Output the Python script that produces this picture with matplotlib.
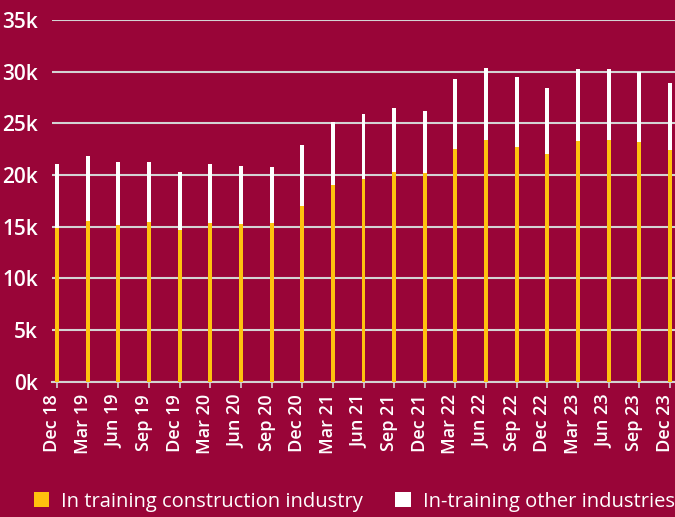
import matplotlib
matplotlib.use("Agg")
import matplotlib.pyplot as plt
import matplotlib.transforms as mtransforms
from matplotlib.patches import Patch
import numpy as np

categories = ["Dec 18", "Mar 19", "Jun 19", "Sep 19", "Dec 19", "Mar 20", "Jun 20",
              "Sep 20", "Dec 20", "Mar 21", "Jun 21", "Sep 21", "Dec 21", "Mar 22",
              "Jun 22", "Sep 22", "Dec 22", "Mar 23", "Jun 23", "Sep 23", "Dec 23"]
construction = [14.9, 15.55, 15.13, 15.42, 14.71, 15.35, 15.26, 15.35, 17.03, 19.03,
                19.61, 20.26, 20.16, 22.52, 23.35, 22.71, 22.0, 23.29, 23.39, 23.19, 22.42]
total = [21.1, 21.87, 21.26, 21.26, 20.26, 21.1, 20.87, 20.77, 22.87, 25.13,
         25.94, 26.45, 26.16, 29.32, 30.35, 29.48, 28.42, 30.23, 30.26, 30.0, 28.94]
other = [t - c for t, c in zip(total, construction)]
yticks = [0, 5, 10, 15, 20, 25, 30, 35]
ytick_labels = ["0k", "5k", "10k", "15k", "20k", "25k", "30k", "35k"]
series_names = ["In training construction industry", "In-training other industries"]

BG = "#990538"
YELLOW = "#FFC20E"
GRID = "#D4D4D4"

plt.rcParams['font.family'] = ['Open Sans', 'DejaVu Sans']

W, H = 675, 517
fig = plt.figure(figsize=(W/100, H/100), dpi=100, facecolor=BG)
ax = fig.add_axes([52/W, 1 - 381.7/H, (675-52)/W, (381.7-20)/H], facecolor=BG)

x = np.arange(len(categories))
ax.bar(x, construction, width=0.13, color=YELLOW, zorder=3)
ax.bar(x, other, bottom=construction, width=0.13, color="white", zorder=3)

ax.set_xlim(-0.17, len(categories) - 1 + 0.17)
ax.set_ylim(0, 35)
ax.set_yticks(yticks)
ax.set_yticklabels(ytick_labels)
ax.yaxis.grid(True, color=GRID, linewidth=1.5, zorder=0)
ax.set_axisbelow(True)
for s in ["top", "right", "left"]:
    ax.spines[s].set_visible(False)
ax.spines["bottom"].set_color(GRID)
ax.spines["bottom"].set_linewidth(1.5)
ax.tick_params(axis='y', length=0, labelsize=15, labelcolor="white", pad=10)
ax.set_xticks(x)
ax.set_xticklabels(categories, rotation=90)
ax.tick_params(axis='x', length=4, width=1.2, color=GRID, labelsize=13,
               labelcolor="white", pad=5)
for lbl in ax.get_yticklabels() + ax.get_xticklabels():
    lbl.set_fontweight("semibold")
offset = mtransforms.ScaledTranslation(-5/100, 0, fig.dpi_scale_trans)
for lbl in ax.get_xticklabels():
    lbl.set_transform(lbl.get_transform() + offset)

handles = [Patch(facecolor=YELLOW, edgecolor="none"), Patch(facecolor="white", edgecolor="none")]
leg = fig.legend(handles, series_names, loc="lower center", bbox_to_anchor=(0.525, -0.025),
                 ncol=2, frameon=False, fontsize=14.5, labelcolor="white",
                 handlelength=0.75, handleheight=0.75, handletextpad=0.6, columnspacing=1.6)

fig.savefig("out.png", dpi=100, facecolor=BG)
